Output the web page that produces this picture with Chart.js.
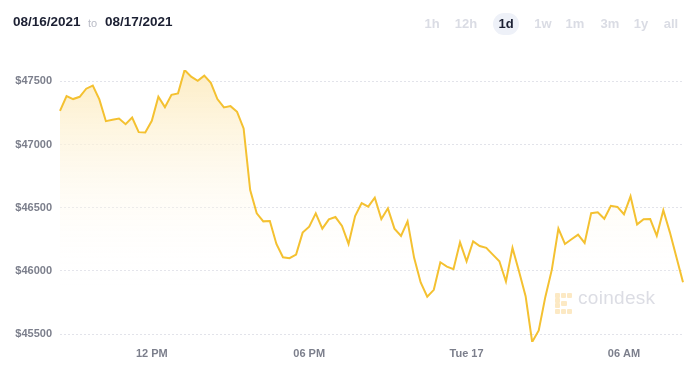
<!DOCTYPE html>
<html>
<head>
<meta charset="utf-8">
<script src="https://cdn.jsdelivr.net/npm/chart.js@4.4.1/dist/chart.umd.min.js"></script>
<style>
  html, body { margin: 0; padding: 0; background: #ffffff; }
  #wrap { position: relative; width: 700px; height: 369px; overflow: hidden; font-family: "Liberation Sans", Arial, sans-serif; }
  #chartBox { position: absolute; left: 0; top: 0; width: 700px; height: 369px; }
  .hdr { position: absolute; top: 14px; font-weight: bold; font-size: 13.5px; color: #1c2033; line-height: 16px; }
  .to { position: absolute; top: 15px; left: 88px; font-size: 11px; color: #b9bbc6; line-height: 16px; }
  .btn { position: absolute; top: 16px; font-size: 13px; font-weight: bold; color: #dadce4; line-height: 16px; transform: translateX(-50%); }
  .pill { position: absolute; left: 493px; top: 13px; width: 26px; height: 22px; border-radius: 11px; background: #eef1f8; }
  .wm { position: absolute; left: 578px; top: 287px; font-size: 19px; color: #dcdde4; letter-spacing: 0.3px; }
  .logo { position: absolute; left: 555px; top: 293px; width: 18px; height: 21px; }
  .logo span { position: absolute; width: 5px; height: 5px; background: #fce9c4; border-radius: 1px; }
</style>
</head>
<body>
<div id="wrap">
  <div class="pill"></div>
  <div id="chartBox"><canvas id="c"></canvas></div>
  <div class="hdr" style="left:13px">08/16/2021</div>
  <div class="to">to</div>
  <div class="hdr" style="left:105px">08/17/2021</div>
  <div class="btn" style="left:432px">1h</div>
  <div class="btn" style="left:466px">12h</div>
  <div class="btn" style="left:506px;color:#1c2033">1d</div>
  <div class="btn" style="left:543px">1w</div>
  <div class="btn" style="left:575px">1m</div>
  <div class="btn" style="left:610px">3m</div>
  <div class="btn" style="left:641px">1y</div>
  <div class="btn" style="left:671px">all</div>
  <div class="logo">
    <span style="left:0;top:0"></span><span style="left:6px;top:0"></span><span style="left:12px;top:0"></span>
    <span style="left:0;top:5px"></span><span style="left:0;top:10px"></span><span style="left:6px;top:8px;width:6px"></span>
    <span style="left:0;top:16px"></span><span style="left:6px;top:16px"></span><span style="left:12px;top:16px"></span>
  </div>
  <div class="wm">coindesk</div>
</div>
<script>
const times = [
  "08:30","08:45","09:00","09:15","09:30","09:45","10:00","10:15","10:30","10:45",
  "11:00","11:15","11:30","11:45","12:00","12:15","12:30","12:45","13:00","13:15",
  "13:30","13:45","14:00","14:15","14:30","14:45","15:00","15:15","15:30","15:45",
  "16:00","16:15","16:30","16:45","17:00","17:15","17:30","17:45","18:00","18:15",
  "18:30","18:45","19:00","19:15","19:30","19:45","20:00","20:15","20:30","20:45",
  "21:00","21:15","21:30","21:45","22:00","22:15","22:30","22:45","23:00","23:15",
  "23:30","23:45","00:00","00:15","00:30","00:45","01:00","01:15","01:30","01:45",
  "02:00","02:15","02:30","02:45","03:00","03:15","03:30","03:45","04:00","04:15",
  "04:30","04:45","05:00","05:15","05:30","05:45","06:00","06:15","06:30","06:45",
  "07:00","07:15","07:30","07:45","08:00","08:15"
];
const prices = [
  47267, 47384, 47360, 47378, 47442, 47466, 47357, 47185, 47196, 47206,
  47161, 47214, 47098, 47095, 47188, 47378, 47296, 47394, 47405, 47590,
  47537, 47505, 47545, 47489, 47360, 47294, 47304, 47259, 47127, 46640,
  46455, 46392, 46395, 46213, 46108, 46100, 46129, 46303, 46350, 46455,
  46334, 46408, 46426, 46355, 46213, 46434, 46537, 46508, 46579, 46410,
  46495, 46334, 46276, 46392, 46103, 45908, 45795, 45850, 46068, 46034,
  46013, 46226, 46076, 46234, 46197, 46182, 46129, 46076, 45916, 46182,
  45995, 45800, 45437, 45529, 45792, 46010, 46334, 46213, 46250, 46287,
  46221, 46457, 46463, 46412, 46515, 46506, 46448, 46590, 46368, 46409,
  46410, 46278, 46480, 46305, 46108, 45910
];
const tickTimes  = ["12:00", "18:00", "00:00", "06:00"];
const tickLabels = ["12 PM", "06 PM", "Tue 17", "06 AM"];
const yTicks     = [45500, 46000, 46500, 47000, 47500];

const axisFont = { family: '"Liberation Sans", Arial, sans-serif', size: 11, weight: 'bold' };
const axisColor = '#7c7f8c';

new Chart(document.getElementById('c'), {
  type: 'line',
  data: {
    labels: times,
    datasets: [{
      data: prices,
      borderColor: '#f4c131',
      borderWidth: 2,
      pointRadius: 0,
      tension: 0,
      fill: 'start',
      backgroundColor: (ctx) => {
        const area = ctx.chart.chartArea;
        if (!area) return 'rgba(253,240,207,0.8)';
        const g = ctx.chart.ctx.createLinearGradient(0, area.top, 0, area.top + 215);
        g.addColorStop(0, 'rgba(253,237,197,1)');
        g.addColorStop(1, 'rgba(255,255,255,0)');
        return g;
      }
    }]
  },
  options: {
    responsive: true,
    maintainAspectRatio: false,
    animation: false,
    events: [],
    layout: { padding: { top: 70, right: 17, left: 0, bottom: 0 } },
    plugins: { legend: { display: false }, tooltip: { enabled: false } },
    scales: {
      x: {
        type: 'category',
        offset: false,
        grid: { display: false, drawTicks: false },
        border: { display: false },
        afterFit: (s) => { s.height = 27; },
        ticks: {
          autoSkip: false,
          maxRotation: 0,
          padding: 5,
          color: axisColor,
          font: axisFont,
          callback: function (v, i) {
            const k = tickTimes.indexOf(times[i]);
            return k >= 0 ? tickLabels[k] : null;
          }
        }
      },
      y: {
        min: Math.min(...prices),
        max: Math.max(...prices),
        grid: { color: '#e2e3ea', lineWidth: 1, drawTicks: false },
        border: { display: false, dash: [2, 2] },
        afterFit: (s) => { s.width = 60; },
        afterBuildTicks: (s) => { s.ticks = yTicks.map(v => ({ value: v })); },
        ticks: {
          padding: 8,
          color: axisColor,
          font: axisFont,
          callback: (v) => '$' + v
        }
      }
    }
  }
});
</script>
</body>
</html>
